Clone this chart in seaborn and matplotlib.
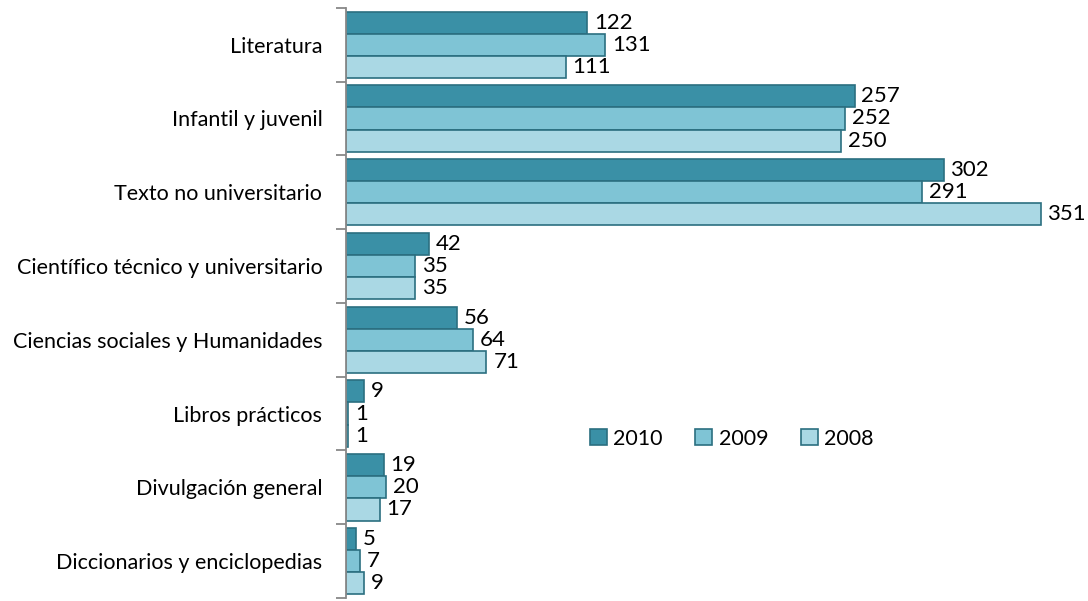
import pandas as pd
import matplotlib.pyplot as plt
import seaborn as sns

categories = ["Literatura", "Infantil y juvenil", "Texto no universitario",
              "Científico técnico y universitario", "Ciencias sociales y Humanidades",
              "Libros prácticos", "Divulgación general", "Diccionarios y enciclopedias"]
years = ["2010", "2009", "2008"]
v2010 = [122, 257, 302, 42, 56, 9, 19, 5]
v2009 = [131, 252, 291, 35, 64, 1, 20, 7]
v2008 = [111, 250, 351, 35, 71, 1, 17, 9]
colors = ["#3a90a6", "#7fc4d5", "#aad8e4"]


def make_chart():
    df = pd.DataFrame({
        "categoria": categories * 3,
        "año": [y for y in years for _ in categories],
        "valor": v2010 + v2009 + v2008,
    })

    sns.set_style("white")
    plt.rcParams["font.family"] = ["Lato", "DejaVu Sans"]
    plt.rcParams["text.color"] = "black"
    plt.rcParams["ytick.color"] = "black"

    fig = plt.figure(figsize=(10.88, 6.01), dpi=100)
    ax = fig.add_axes([0.318, 0.005, 0.682, 0.982])
    sns.barplot(data=df, y="categoria", x="valor", hue="año", hue_order=years,
                order=categories, palette=colors, saturation=1, width=0.9,
                orient="h", edgecolor="#2b6f80", linewidth=1.2, ax=ax)

    for c in ax.containers:
        ax.bar_label(c, padding=5, fontsize=16, color="black")

    ax.set_xlim(0, 375)
    ax.set_ylim(7.5, -0.5)
    ax.set_xlabel("")
    ax.set_ylabel("")
    ax.set_xticks([])
    ax.tick_params(axis="y", which="major", length=0, labelsize=15.5, pad=17,
                   labelcolor="black")
    ax.set_yticks([i - 0.5 for i in range(len(categories) + 1)], minor=True)
    ax.tick_params(axis="y", which="minor", left=True, length=7, width=1.3,
                   color="#888888", direction="out")
    for s in ["top", "right", "bottom"]:
        ax.spines[s].set_visible(False)
    ax.spines["left"].set_color("#888888")
    ax.spines["left"].set_linewidth(1.3)

    ax.legend(loc="center", bbox_to_anchor=(0.52, 0.27), ncol=3, frameon=False,
              fontsize=15.5, handlelength=0.8, handleheight=0.8, columnspacing=1.5,
              handletextpad=0.3)

    fig.savefig("out.png", dpi=100)
    plt.close(fig)


if __name__ == "__main__":
    make_chart()
